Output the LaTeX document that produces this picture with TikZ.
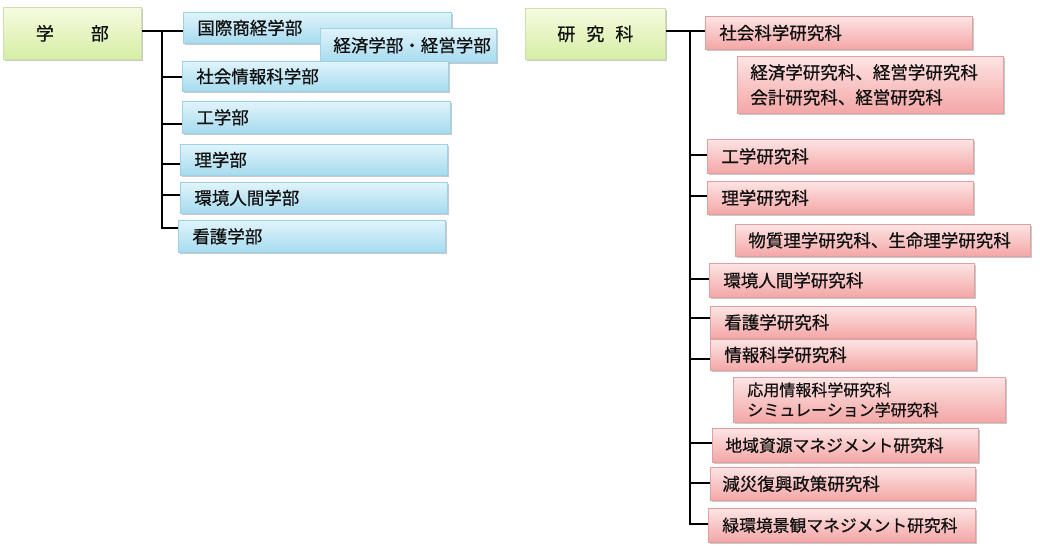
\documentclass[tikz,border=0pt]{standalone}
\usepackage{fontspec}
\setmainfont{Noto Sans CJK JP}[FakeBold=0.7]
\usetikzlibrary{shadows}
\definecolor{bluetop}{HTML}{E0F4FB}
\definecolor{bluebot}{HTML}{A6DBEF}
\definecolor{blueline}{HTML}{9FD0E4}
\definecolor{pinktop}{HTML}{FDE4E4}
\definecolor{pinkbot}{HTML}{F4A6A6}
\definecolor{pinkline}{HTML}{DFA0A0}
\definecolor{greentop}{HTML}{F6FBE0}
\definecolor{greenbot}{HTML}{D5EEA4}
\definecolor{greenline}{HTML}{CFDFAE}
\definecolor{txt}{HTML}{111111}
\begin{document}
\begin{tikzpicture}[x=1pt,y=-1pt,
  box/.style={anchor=north west, inner xsep=14pt, inner ysep=0pt, align=left,
    text=txt, line width=0.7pt,
    font=\fontsize{17.5}{25}\selectfont,
    drop shadow={shadow xshift=1.5pt, shadow yshift=-2pt, opacity=0.35, fill=black!60}},
  bluebox/.style={box, top color=bluetop, bottom color=bluebot, draw=blueline},
  pinkbox/.style={box, top color=pinktop, bottom color=pinkbot, draw=pinkline},
  headbox/.style={box, top color=greentop, bottom color=greenbot, draw=greenline,
    align=center, font=\fontsize{18}{22}\selectfont},
  conn/.style={draw=black, line width=1.6pt}
]
\fill[white] (0,0) rectangle (1040,551);
\useasboundingbox (0,0) rectangle (1040,551);

% ---- left: 学部 ----
\node[headbox, text width=110pt, minimum height=52pt] (g1) at (3,7) {学\hspace{37pt}部};
\node[bluebox, text width=240pt, minimum height=31pt] (b1) at (183,12) {国際商経学部};
\node[bluebox, text width=150pt, minimum height=34pt, inner xsep=13pt] (b1a) at (320,28) {経済学部・経営学部};
\node[bluebox, text width=238pt, minimum height=30pt] (b2) at (182,61) {社会情報科学部};
\node[bluebox, text width=240pt, minimum height=32pt] (b3) at (182,101) {工学部};
\node[bluebox, text width=239pt, minimum height=31pt] (b4) at (180,144) {理学部};
\node[bluebox, text width=239pt, minimum height=31pt] (b5) at (180,182) {環境人間学部};
\node[bluebox, text width=239pt, minimum height=32pt] (b6) at (178,220) {看護学部};

\coordinate (lt) at (162,31);
\coordinate (lb) at (162,228);
\draw[conn] (g1.east |- lt) -- (b1.west |- lt);
\draw[conn] (lt) -- (lb) -- (b6.west |- lb);
\draw[conn] (lt |- 0,77) -- (b2.west |- 0,77);
\draw[conn] (lt |- 0,124) -- (b3.west |- 0,124);
\draw[conn] (lt |- 0,164) -- (b4.west |- 0,164);
\draw[conn] (lt |- 0,195) -- (b5.west |- 0,195);

% ---- right: 研究科 ----
\node[headbox, text width=112pt, minimum height=51pt] (g2) at (525,8) {研\hspace{11pt}究\hspace{11pt}科};
\node[pinkbox, text width=239pt, minimum height=33pt] (p1) at (705,16) {社会科学研究科};
\node[pinkbox, text width=240pt, minimum height=57pt, inner xsep=13pt] (p1a) at (737,56) {経済学研究科、経営学研究科\\会計研究科、経営研究科};
\node[pinkbox, text width=238pt, minimum height=34pt] (p2) at (707,139) {工学研究科};
\node[pinkbox, text width=238pt, minimum height=33pt] (p3) at (707,181) {理学研究科};
\node[pinkbox, text width=269pt, minimum height=32pt, inner xsep=13pt] (p3a) at (735,224) {物質理学研究科、生命理学研究科};
\node[pinkbox, text width=237pt, minimum height=34pt] (p4) at (709,263) {環境人間学研究科};
\node[pinkbox, text width=237pt, minimum height=32pt] (p5) at (710,306) {看護学研究科};
\node[pinkbox, text width=238pt, minimum height=31pt] (p6) at (710,339) {情報科学研究科};
\node[pinkbox, text width=244pt, minimum height=45pt, font=\fontsize{16}{20}\selectfont] (p6a) at (733,377) {応用情報科学研究科\\シミュレーション学研究科};
\node[pinkbox, text width=240pt, minimum height=34pt, inner xsep=13pt, font=\fontsize{16.8}{22}\selectfont] (p7) at (712,428) {地域資源マネジメント研究科};
\node[pinkbox, text width=241pt, minimum height=33pt, inner xsep=12pt] (p8) at (710,467) {減災復興政策研究科};
\node[pinkbox, text width=239pt, minimum height=34pt, font=\fontsize{16.8}{22}\selectfont] (p9) at (708,508) {緑環境景観マネジメント研究科};

\coordinate (rt) at (690,31);
\coordinate (rb) at (690,524);
\draw[conn] (g2.east |- rt) -- (p1.west |- rt);
\draw[conn] (rt) -- (rb) -- (p9.west |- rb);
\draw[conn] (rt |- 0,155) -- (p2.west |- 0,155);
\draw[conn] (rt |- 0,196) -- (p3.west |- 0,196);
\draw[conn] (rt |- 0,279) -- (p4.west |- 0,279);
\draw[conn] (rt |- 0,318) -- (p5.west |- 0,318);
\draw[conn] (rt |- 0,359) -- (p6.west |- 0,359);
\draw[conn] (rt |- 0,443) -- (p7.west |- 0,443);
\draw[conn] (rt |- 0,483) -- (p8.west |- 0,483);
\end{tikzpicture}
\end{document}
